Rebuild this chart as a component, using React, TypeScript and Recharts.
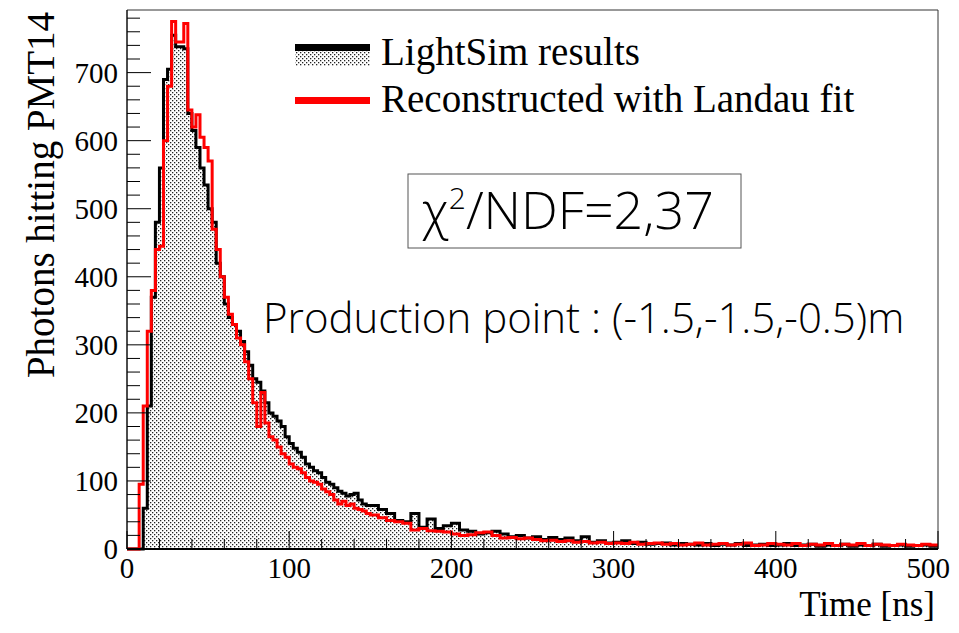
import { ComposedChart, Area, Line, XAxis, YAxis, ReferenceArea } from 'recharts'

// bin starts: 2.5 ns bins up to 150 ns, 5 ns bins after that
const fineStarts = Array.from({ length: 60 }, (_, i) => i * 2.5)
const coarseStarts = Array.from({ length: 70 }, (_, i) => 150 + i * 5)
const binStarts = [...fineStarts, ...coarseStarts]

// LightSim results (black, dotted fill)
const lightSim = [
  0, 0, 0, 0, 60, 210, 370, 480, 560, 690,
  705, 755, 738, 738, 735, 640, 615, 590, 560, 535,
  500, 480, 420, 400, 360, 340, 330, 320, 305, 290,
  270, 250, 245, 232, 215, 200, 195, 188, 180, 165,
  155, 148, 142, 135, 125, 120, 115, 112, 105, 98,
  95, 90, 85, 82, 78, 80, 82, 72, 66, 64,
  64, 58, 52, 42, 40, 52, 32, 44, 30, 34,
  38, 28, 26, 22, 24, 26, 22, 18, 20, 16,
  18, 14, 17, 14, 16, 12, 18, 10, 12, 9,
  10, 12, 8, 10, 7, 8, 9, 6, 8, 7,
  6, 8, 5, 7, 6, 8, 5, 6, 7, 5,
  6, 8, 5, 6, 7, 4, 6, 5, 7, 4,
  6, 5, 7, 4, 5, 6, 4, 5, 6, 4,
]

// Reconstructed with Landau fit (red line)
const landauFit = [
  0, 0, 0, 95, 210, 320, 380, 440, 445, 600,
  680, 775, 745, 745, 772, 645, 620, 638, 605, 590,
  570, 470, 440, 400, 370, 345, 330, 310, 300, 275,
  250, 215, 180, 230, 185, 165, 160, 150, 140, 135,
  125, 120, 118, 112, 105, 100, 98, 95, 88, 84,
  80, 72, 66, 70, 64, 66, 60, 58, 56, 52,
  50, 46, 42, 40, 38, 28, 30, 27, 26, 25,
  22, 20, 21, 24, 25, 20, 16, 17, 15, 16,
  14, 12, 13, 11, 12, 10, 11, 9, 10, 8,
  9, 8, 10, 7, 8, 9, 7, 8, 6, 7,
  9, 6, 7, 8, 6, 7, 9, 5, 6, 8,
  7, 6, 8, 5, 7, 6, 8, 5, 7, 6,
  8, 5, 7, 6, 5, 7, 6, 5, 7, 6,
]

const xMajor = [0, 100, 200, 300, 400, 500]
const yMajor = [0, 100, 200, 300, 400, 500, 600, 700]
const xTicks = Array.from({ length: 26 }, (_, i) => i * 20)
const yTicks = Array.from({ length: 40 }, (_, i) => i * 20)

const data = binStarts.map((t, i) => ({ t, black: lightSim[i], red: landauFit[i] }))
data.push({ t: 500, black: lightSim[lightSim.length - 1], red: landauFit[landauFit.length - 1] })

const serif = '"Liberation Serif", "Times New Roman", serif'
const sans = '"Open Sans", "Noto Sans", sans-serif'

const XTick = ({ x, y, payload }: any) => {
  const major = xMajor.includes(payload.value)
  const last = payload.value === 500
  return (
    <g>
      <line x1={x} y1={y} x2={x} y2={y - (major ? 18 : 10)} stroke="#000" strokeWidth={1} />
      {major && (
        <text
          x={last ? x + 12 : x}
          y={y + 29}
          textAnchor={last ? 'end' : 'middle'}
          fontFamily={serif}
          fontSize={29}
          fill="#000"
        >
          {payload.value}
        </text>
      )}
    </g>
  )
}

const YTick = ({ x, y, payload }: any) => {
  const major = yMajor.includes(payload.value)
  return (
    <g>
      <line x1={x} y1={y} x2={x + (major ? 24 : 13)} y2={y} stroke="#000" strokeWidth={1} />
      {major && (
        <text x={x - 9} y={y + 10} textAnchor="end" fontFamily={serif} fontSize={29} fill="#000">
          {payload.value}
        </text>
      )}
    </g>
  )
}

export default function App() {
  return (
    <div style={{ position: 'relative', width: 943, height: 617 }}>
      <svg width={0} height={0} style={{ position: 'absolute' }}>
        <defs>
          <pattern id="dots" width={4} height={4} patternUnits="userSpaceOnUse">
            <rect x={0} y={0} width={4} height={4} fill="#fff" />
            <rect x={0} y={0} width={1.3} height={1.3} fill="#222" />
            <rect x={2} y={2} width={1.3} height={1.3} fill="#222" />
          </pattern>
        </defs>
      </svg>
      <ComposedChart
        width={943}
        height={617}
        data={data}
        margin={{ top: 2, right: 13, bottom: 0, left: 0 }}
      >
        <XAxis
          dataKey="t"
          type="number"
          domain={[0, 500]}
          ticks={xTicks}
          interval={0}
          height={76}
          tickSize={0}
          tickMargin={0}
          tickLine={false}
          axisLine={{ stroke: '#000', strokeWidth: 2 }}
          tick={<XTick />}
        />
        <YAxis
          type="number"
          domain={[0, 792]}
          ticks={yTicks}
          interval={0}
          width={119}
          tickSize={0}
          tickMargin={0}
          tickLine={false}
          axisLine={{ stroke: '#000', strokeWidth: 1 }}
          tick={<YTick />}
        />
        <Area
          type="stepAfter"
          dataKey="black"
          stroke="#000"
          strokeWidth={3}
          fill="url(#dots)"
          fillOpacity={1}
          isAnimationActive={false}
          dot={false}
          activeDot={false}
        />
        <Line
          type="stepAfter"
          dataKey="red"
          stroke="#ff0000"
          strokeWidth={3}
          dot={false}
          activeDot={false}
          isAnimationActive={false}
        />
        <ReferenceArea x1={0} x2={500} y1={0} y2={792} fill="none" stroke="#333" strokeWidth={1} ifOverflow="visible" />
      </ComposedChart>
      <svg width={943} height={617} style={{ position: 'absolute', left: 0, top: 0, pointerEvents: 'none' }}>
        <text
          transform="translate(46, 187) rotate(-90)"
          textAnchor="middle"
          fontFamily={serif}
          fontSize={39}
          fill="#000"
        >
          Photons hitting PMT14
        </text>
        <text x={927} y={608} textAnchor="end" fontFamily={serif} fontSize={35} fill="#000">
          Time [ns]
        </text>

        {/* legend */}
        <rect x={287} y={36} width={75} height={22} fill="url(#dots)" />
        <rect x={287} y={36} width={75} height={7} fill="#000" />
        <rect x={287} y={89} width={75} height={7} fill="#ff0000" />
        <text x={373} y={57} fontFamily={serif} fontSize={39} fill="#000">
          LightSim results
        </text>
        <text x={373} y={104} fontFamily={serif} fontSize={39} fill="#000">
          Reconstructed with Landau fit
        </text>

        {/* fit quality box */}
        <rect x={400} y={166} width={333} height={74} fill="#fff" stroke="#555" strokeWidth={1} />
        <text x={414} y={221} fontFamily={sans} fontSize={52} fontWeight={300} fill="#000">
          χ<tspan dy={-20} fontSize={30}>2</tspan>
          <tspan dy={20}>/NDF=2,37</tspan>
        </text>
        <text x={255} y={325} fontFamily={sans} fontSize={42} fontWeight={300} fill="#000">
          Production point : (-1.5,-1.5,-0.5)m
        </text>
      </svg>
    </div>
  )
}
